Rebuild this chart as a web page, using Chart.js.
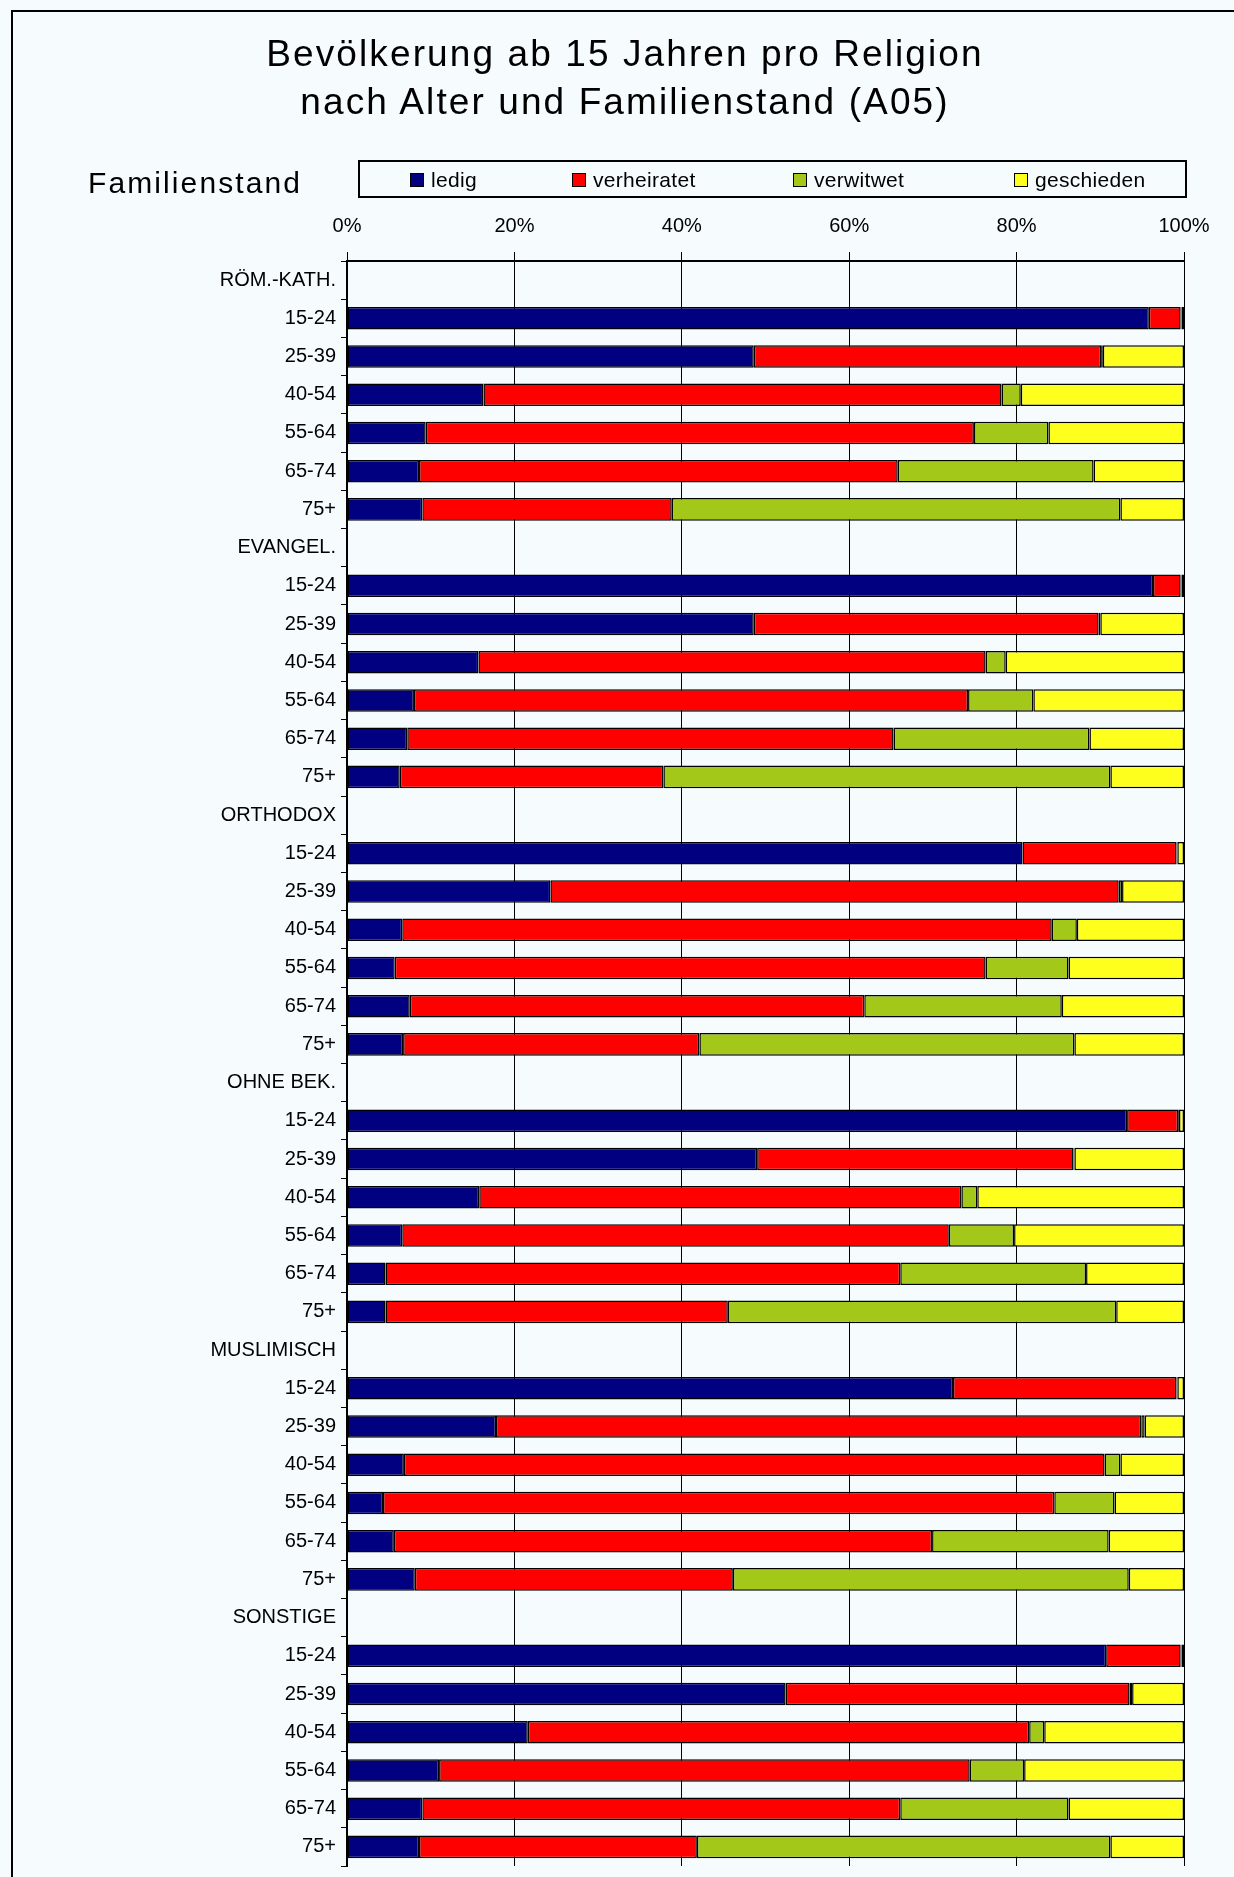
<!DOCTYPE html>
<html>
<head>
<meta charset="utf-8">
<title>Bevölkerung ab 15 Jahren pro Religion</title>
<script src="https://cdn.jsdelivr.net/npm/chart.js@4.4.1/dist/chart.umd.min.js"></script>
<style>
	body { margin: 0; background: #f6fcfd; font-family: "Liberation Sans", Arial, sans-serif; color: #000; }
	#page { position: relative; width: 1234px; height: 1877px; overflow: hidden; }
	#frame { position: absolute; left: 11px; top: 10px; width: 1240px; height: 1900px; border-left: 2px solid #000; border-top: 2px solid #000; }
	#chart { position: absolute; left: 0; top: 0; }
	#title { position: absolute; left: 0; top: 30px; width: 1250px; text-align: center; font-size: 37px; line-height: 48px; letter-spacing: 2.1px; }
	#subtitle { position: absolute; left: 88px; top: 166px; font-size: 30px; letter-spacing: 2.1px; }
	#legend { position: absolute; left: 358px; top: 160px; width: 829px; height: 38px; border: 2px solid #000; box-sizing: border-box; }
	#legend .item { position: absolute; top: 7px; font-size: 21px; line-height: 22px; letter-spacing: 0.3px; white-space: nowrap; }
	#legend .box { display: inline-block; width: 12px; height: 12px; border: 1px solid #000; margin-right: 7px; vertical-align: 0px; }
</style>
</head>
<body>
<div id="page">
	<div id="frame"></div>
	<canvas id="chart" width="1234" height="1877"></canvas>
	<div id="title">Bevölkerung ab 15 Jahren pro Religion<br>nach Alter und Familienstand (A05)</div>
	<div id="subtitle">Familienstand</div>
	<div id="legend"></div>
</div>
<script>
'use strict';

// categories
var religionen = ["RÖM.-KATH.", "EVANGEL.", "ORTHODOX", "OHNE BEK.", "MUSLIMISCH", "SONSTIGE"];
var altersgruppen = ["15-24", "25-39", "40-54", "55-64", "65-74", "75+"];

// series in percent, 6 age groups per religion (same order as religionen)
var ledig = [
	95.8, 48.6, 16.3, 9.4, 8.6, 9.0,
	96.3, 48.6, 15.7, 8.0, 7.2, 6.3,
	80.7, 24.3, 6.6, 5.7, 7.5, 6.7,
	93.2, 49.0, 15.8, 6.6, 4.6, 4.6,
	72.4, 17.8, 6.8, 4.3, 5.6, 8.1,
	90.7, 52.4, 21.6, 11.0, 9.0, 8.6
];
var verheiratet = [
	3.8, 41.5, 61.9, 65.5, 57.2, 29.8,
	3.3, 41.2, 60.6, 66.2, 58.1, 31.5,
	18.4, 67.9, 77.6, 70.6, 54.3, 35.4,
	6.1, 37.8, 57.6, 65.3, 61.5, 40.9,
	26.7, 77.1, 83.7, 80.2, 64.3, 38.0,
	8.9, 41.1, 59.9, 63.4, 57.1, 33.2
];
var verwitwet = [
	0.1, 0.2, 2.3, 8.9, 23.4, 53.6,
	0.1, 0.2, 2.4, 7.8, 23.4, 53.4,
	0.1, 0.4, 3.0, 9.9, 23.6, 44.8,
	0.1, 0.1, 1.9, 7.8, 22.2, 46.4,
	0.1, 0.4, 1.9, 7.2, 21.1, 47.3,
	0.1, 0.3, 1.8, 6.5, 20.1, 49.4
];
var geschieden = [
	0.3, 9.7, 19.5, 16.2, 10.8, 7.6,
	0.3, 10.0, 21.3, 18.0, 11.3, 8.8,
	0.8, 7.4, 12.8, 13.8, 14.6, 13.1,
	0.6, 13.1, 24.7, 20.3, 11.7, 8.1,
	0.8, 4.7, 7.6, 8.3, 9.0, 6.6,
	0.3, 6.2, 16.7, 19.1, 13.8, 8.8
];

// x axis ticks
var prozentTicks = [0, 20, 40, 60, 80, 100];

var serien = ["ledig", "verheiratet", "verwitwet", "geschieden"];
var farben = ["#000080", "#ff0000", "#a4c81a", "#ffff1e"];

(function(){

	// one row per religion header, then one row per age group
	var labels = [];
	var rows = function(values){
		var out = [];
		religionen.forEach(function(rel, r){
			out.push(null);
			altersgruppen.forEach(function(a, i){
				out.push(values[r * altersgruppen.length + i]);
			});
		});
		return out;
	};
	religionen.forEach(function(rel){
		labels.push(rel);
		altersgruppen.forEach(function(a){ labels.push(a); });
	});

	var values = [ledig, verheiratet, verwitwet, geschieden];
	var datasets = serien.map(function(name, i){
		return {
			label: name,
			data: rows(values[i]),
			backgroundColor: farben[i],
			borderColor: "#000",
			borderWidth: 1.5,
			borderSkipped: false,
			barPercentage: 0.59,
			categoryPercentage: 1.0
		};
	});

	// html legend, Excel style
	var legendPos = [50, 212, 433, 654];
	var legend = document.getElementById("legend");
	serien.forEach(function(name, i){
		var item = document.createElement("div");
		item.className = "item";
		item.style.left = legendPos[i] + "px";
		item.innerHTML = '<span class="box" style="background:' + farben[i] + '"></span>' + name;
		legend.appendChild(item);
	});

	var font = { family: "'Liberation Sans', Arial, sans-serif", size: 20 };

	var ctx = document.getElementById("chart").getContext("2d");
	new Chart(ctx, {
		type: "bar",
		data: { labels: labels, datasets: datasets },
		options: {
			indexAxis: "y",
			responsive: false,
			animation: false,
			layout: { padding: { left: 20, top: 205, right: 50, bottom: 11 } },
			plugins: {
				legend: { display: false },
				tooltip: { enabled: false }
			},
			scales: {
				x: {
					stacked: true,
					position: "top",
					min: 0,
					max: 100,
					afterFit: function(scale){ scale.height = 56; },
					afterBuildTicks: function(scale){
						scale.ticks = prozentTicks.map(function(v){ return { value: v }; });
					},
					ticks: {
						font: font,
						color: "#000",
						padding: 14,
						callback: function(v){ return v + "%"; }
					},
					grid: { color: "#000", lineWidth: 1, tickLength: 9 },
					border: { color: "#000", width: 2 }
				},
				y: {
					stacked: true,
					// fixed width, and no extra room for the last label
					afterFit: function(scale){
						scale.width = 327;
						scale.paddingTop = 0;
						scale.paddingBottom = 0;
					},
					ticks: { font: font, color: "#000", padding: 5, autoSkip: false },
					grid: { drawOnChartArea: false, offset: true, color: "#000", tickLength: 6 },
					border: { color: "#000", width: 2 }
				}
			}
		}
	});

})();
</script>
</body>
</html>
